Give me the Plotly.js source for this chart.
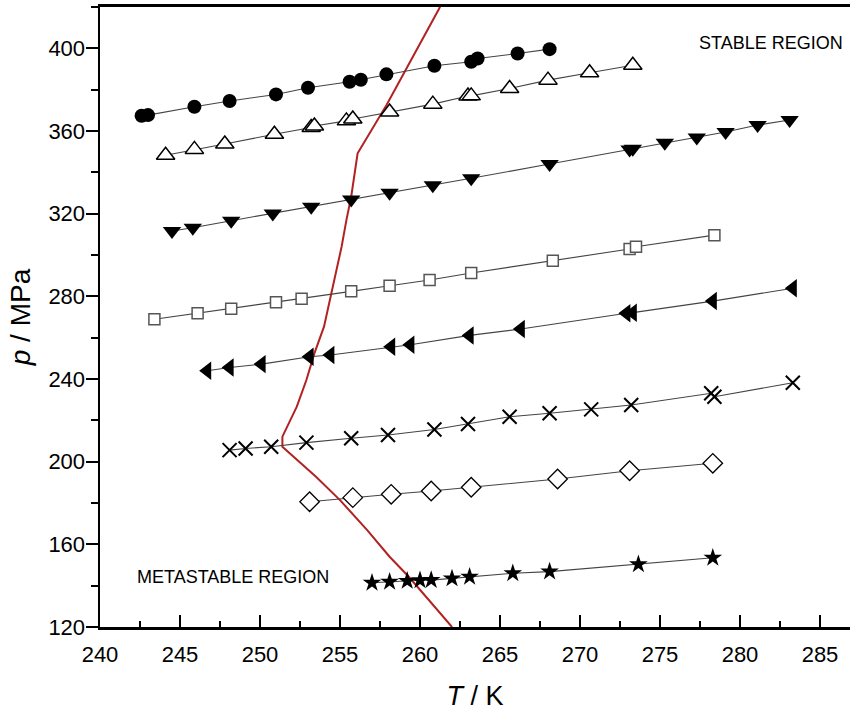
<!DOCTYPE html>
<html>
<head>
<meta charset="utf-8">
<script src="https://cdn.plot.ly/plotly-3.0.1.min.js"></script>
<style>html,body{margin:0;padding:0;background:#fff;}#chart{width:850px;height:713px;}</style>
</head>
<body>
<div id="chart"></div>
<script>
// Series: temperature T (K) and pressure p (MPa)
const circT = [242.6, 243.0, 245.9, 248.1, 251.0, 253.0, 255.6, 256.3, 257.9, 260.9, 263.2, 263.6, 266.1, 268.1];
const circP = [367.4, 367.7, 371.7, 374.5, 377.7, 380.9, 383.8, 384.8, 387.4, 391.6, 393.5, 395.1, 397.5, 399.6];

const triUpT = [244.1, 245.9, 247.8, 250.9, 253.2, 253.4, 255.4, 255.8, 258.1, 260.8, 263.0, 263.2, 265.6, 268.0, 270.6, 273.3];
const triUpP = [348.3, 351.1, 353.7, 358.4, 361.7, 362.4, 364.9, 365.8, 369.2, 373.0, 376.9, 377.0, 380.6, 384.6, 388.2, 391.8];

const triDnT = [244.5, 245.8, 248.2, 250.8, 253.2, 255.7, 258.1, 260.8, 263.2, 268.1, 273.1, 273.3, 275.3, 277.3, 279.1, 281.1, 283.1];
const triDnP = [311.6, 313.2, 316.6, 320.1, 323.3, 326.9, 330.1, 333.8, 337.1, 344.0, 351.0, 351.4, 354.3, 356.9, 359.5, 362.9, 365.3];

const sqT = [243.4, 246.1, 248.2, 251.0, 252.6, 255.7, 258.1, 260.6, 263.2, 268.3, 273.1, 273.5, 278.4];
const sqP = [268.9, 271.8, 274.0, 277.1, 278.8, 282.4, 285.1, 287.9, 291.3, 297.2, 302.9, 304.0, 309.6];

const triLT = [246.7, 248.1, 250.1, 253.1, 254.4, 258.2, 259.4, 263.1, 266.3, 272.9, 273.3, 278.3, 283.3];
const triLP = [244.0, 245.6, 247.2, 250.8, 251.6, 255.6, 256.6, 261.1, 264.2, 271.8, 272.1, 277.7, 283.9];

const crossT = [248.1, 249.1, 250.7, 252.9, 255.7, 258.0, 260.9, 263.0, 265.6, 268.1, 270.7, 273.2, 278.2, 278.4, 283.3];
const crossP = [205.6, 206.4, 207.2, 209.2, 211.3, 212.9, 215.6, 218.2, 221.7, 223.4, 225.3, 227.4, 233.1, 231.4, 238.2];

const diaT = [253.1, 255.8, 258.2, 260.7, 263.2, 268.6, 273.1, 278.3];
const diaP = [180.6, 182.6, 184.2, 185.8, 187.6, 191.6, 195.6, 199.2];

const starT = [257.0, 258.1, 259.2, 260.0, 260.7, 262.0, 263.1, 265.8, 268.1, 273.65, 278.3];
const starP = [141.4, 141.9, 142.3, 142.6, 142.7, 143.5, 144.3, 146.0, 146.8, 150.3, 153.5];

// Phase boundary (red curve)
const boundT = [262.0, 260.5, 259.3, 258.1, 256.7, 255.0, 253.5, 252.1, 251.4, 251.4, 251.7, 252.3, 252.9, 253.4, 254.0, 254.4, 254.8, 255.1, 255.4, 255.7, 256.1, 257.9, 261.2, 261.3];
const boundP = [120.0, 133.4, 144.3, 154.0, 166.9, 181.4, 192.7, 202.4, 207.2, 212.1, 216.9, 226.6, 239.5, 252.4, 265.3, 279.8, 292.7, 304.0, 316.9, 328.2, 349.2, 372.5, 419.3, 421.0];

const xTicks = [240, 245, 250, 255, 260, 265, 270, 275, 280, 285];
const yTicks = [120, 160, 200, 240, 280, 320, 360, 400];

const lineStyle = {color: '#444', width: 1.1};
function series(x, y, marker) {
  return {x: x, y: y, type: 'scatter', mode: 'lines+markers', line: lineStyle, marker: marker, showlegend: false, cliponaxis: false};
}

const traces = [
  {x: boundT, y: boundP, type: 'scatter', mode: 'lines', line: {color: '#b22222', width: 2}, showlegend: false},
  series(circT, circP, {symbol: 'circle', size: 14, color: '#000'}),
  series(triUpT, triUpP, {symbol: 'triangle-up', size: 16, color: '#fff', line: {color: '#000', width: 1.5}}),
  series(triDnT, triDnP, {symbol: 'triangle-down', size: 16, color: '#000'}),
  series(sqT, sqP, {symbol: 'square', size: 11, color: '#fff', line: {color: '#555', width: 1.5}}),
  series(triLT, triLP, {symbol: 'triangle-left', size: 16, color: '#000'}),
  series(crossT, crossP, {symbol: 'x-thin-open', size: 14, color: '#000', line: {color: '#000', width: 2}}),
  series(diaT, diaP, {symbol: 'diamond', size: 15, color: '#fff', line: {color: '#000', width: 1.3}}),
  series(starT, starP, {symbol: 'star', size: 14, color: '#000'})
];

const fontFam = '"Liberation Sans", Arial, sans-serif';
const layout = {
  width: 850, height: 713,
  margin: {l: 100, r: 0, t: 7, b: 86, pad: 0},
  paper_bgcolor: '#fff', plot_bgcolor: '#fff',
  font: {family: fontFam, color: '#000'},
  xaxis: {
    range: [240, 286.875], tickvals: xTicks, ticktext: xTicks.map(String),
    ticks: 'inside', ticklen: 12, tickwidth: 2, tickcolor: '#000',
    minor: {dtick: 2.5, tick0: 240, ticks: 'inside', ticklen: 6, tickwidth: 2, tickcolor: '#000'},
    showline: true, linewidth: 2.7, linecolor: '#000', mirror: true,
    showgrid: false, zeroline: false,
    ticklabelstandoff: 6,
    tickfont: {size: 22, family: fontFam},
    title: {text: '<i>T</i> / K', font: {size: 27, family: fontFam}, standoff: 20}
  },
  yaxis: {
    range: [120, 420], tickvals: yTicks, ticktext: yTicks.map(String),
    ticks: 'outside', ticklen: 12, tickwidth: 2, tickcolor: '#000',
    minor: {dtick: 20, tick0: 120, ticks: 'outside', ticklen: 7, tickwidth: 2, tickcolor: '#000'},
    showline: true, linewidth: 2.5, linecolor: '#000', mirror: false,
    showgrid: false, zeroline: false,
    ticklabelstandoff: -4,
    tickfont: {size: 22, family: fontFam},
    title: {text: '<i>p</i> / MPa', font: {size: 28, family: fontFam}, standoff: 10}
  },
  annotations: [
    {x: 277.3, y: 402.5, xref: 'x', yref: 'y', text: 'STABLE REGION', showarrow: false, xanchor: 'left', yanchor: 'middle', font: {size: 18, family: fontFam, color: '#000'}},
    {x: 242.2, y: 144.2, xref: 'x', yref: 'y', text: 'METASTABLE REGION', showarrow: false, xanchor: 'left', yanchor: 'middle', font: {size: 18, family: fontFam, color: '#000'}}
  ]
};

Plotly.newPlot('chart', traces, layout, {displayModeBar: false, staticPlot: true});
</script>
</body>
</html>
